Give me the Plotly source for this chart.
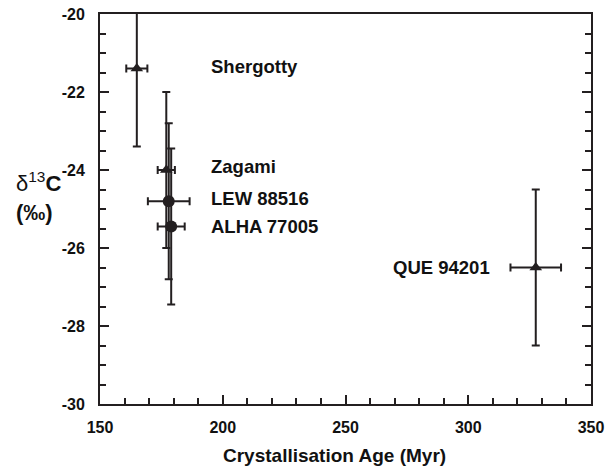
import plotly.graph_objects as go

names = ["Shergotty", "Zagami", "LEW 88516", "ALHA 77005", "QUE 94201"]
age = [165, 177, 178, 179, 327.5]
age_err = [4.3, 3.5, 8.5, 5.5, 10.3]
d13c = [-21.4, -24.0, -24.8, -25.45, -26.5]
d13c_err = [2, 2, 2, 2, 2]
symbols = ["triangle-up", "triangle-up", "circle", "circle", "triangle-up"]
sizes = [11, 11, 12, 12, 11]

label_x = [194.5, 194.5, 194.5, 194.5, 309.5]
label_y = [-21.35, -23.92, -24.72, -25.44, -26.5]
label_anchor = ["left", "left", "left", "left", "right"]

x_ticks = [150, 200, 250, 300, 350]
y_ticks = [-30, -28, -26, -24, -22, -20]
y_ticktext = ["-30", "-28", "-26", "-24", "-22", "-20"]

ink = "#231f20"
FONT = "Liberation Sans, Arial"
fig = go.Figure()
for i in range(len(names)):
    fig.add_trace(go.Scatter(
        x=[age[i]], y=[d13c[i]], mode="markers",
        marker=dict(symbol=symbols[i], size=sizes[i], color=ink),
        error_x=dict(type="data", array=[age_err[i]], color=ink, thickness=2, width=4),
        error_y=dict(type="data", array=[d13c_err[i]], color=ink, thickness=2, width=4),
        showlegend=False,
    ))

for i in range(len(names)):
    fig.add_annotation(x=label_x[i], y=label_y[i], text="<b>%s</b>" % names[i],
                       showarrow=False, xanchor=label_anchor[i], yanchor="middle",
                       font=dict(family=FONT, size=18.5, color="#111"))

fig.add_annotation(xref="paper", yref="paper", x=-0.175, y=0.533,
                   text="δ<sup>13</sup><b>C</b><br><b>(‰)</b>", showarrow=False,
                   xanchor="left", yanchor="middle", align="left",
                   font=dict(family=FONT, size=22, color="#111"))

fig.add_annotation(xref="paper", yref="paper", x=0.4766, y=-0.131,
                   text="<b>Crystallisation Age (Myr)</b>", showarrow=False,
                   xanchor="center", yanchor="middle",
                   font=dict(family=FONT, size=19, color="#111"))

axis_common = dict(showgrid=False, zeroline=False, showline=True, linecolor=ink,
                   linewidth=2, ticks="inside", ticklen=9, tickwidth=1.5, tickcolor=ink,
                   automargin=False, ticklabeloverflow="allow",
                   tickfont=dict(family=FONT, size=16, color="#111", weight="bold"))

fig.update_xaxes(range=[150, 350], tickvals=x_ticks, mirror=True, ticklabelstandoff=8,
                 minor=dict(ticks="inside", ticklen=6, dtick=10, tickcolor=ink, tickwidth=1.5),
                 **axis_common)
fig.update_yaxes(range=[-30, -20], tickvals=y_ticks, ticktext=y_ticktext, mirror="ticks",
                 ticklabelstandoff=10,
                 minor=dict(ticks="inside", ticklen=6, dtick=0.5, tickcolor=ink, tickwidth=1.5),
                 **axis_common)

fig.update_layout(width=606, height=466, margin=dict(l=100, r=15, t=14, b=62),
                  plot_bgcolor="white", paper_bgcolor="white", hovermode=False)
fig.write_html("out.html", config={"displayModeBar": False},
               post_script="document.body.style.margin='0';document.body.style.overflow='hidden';")
